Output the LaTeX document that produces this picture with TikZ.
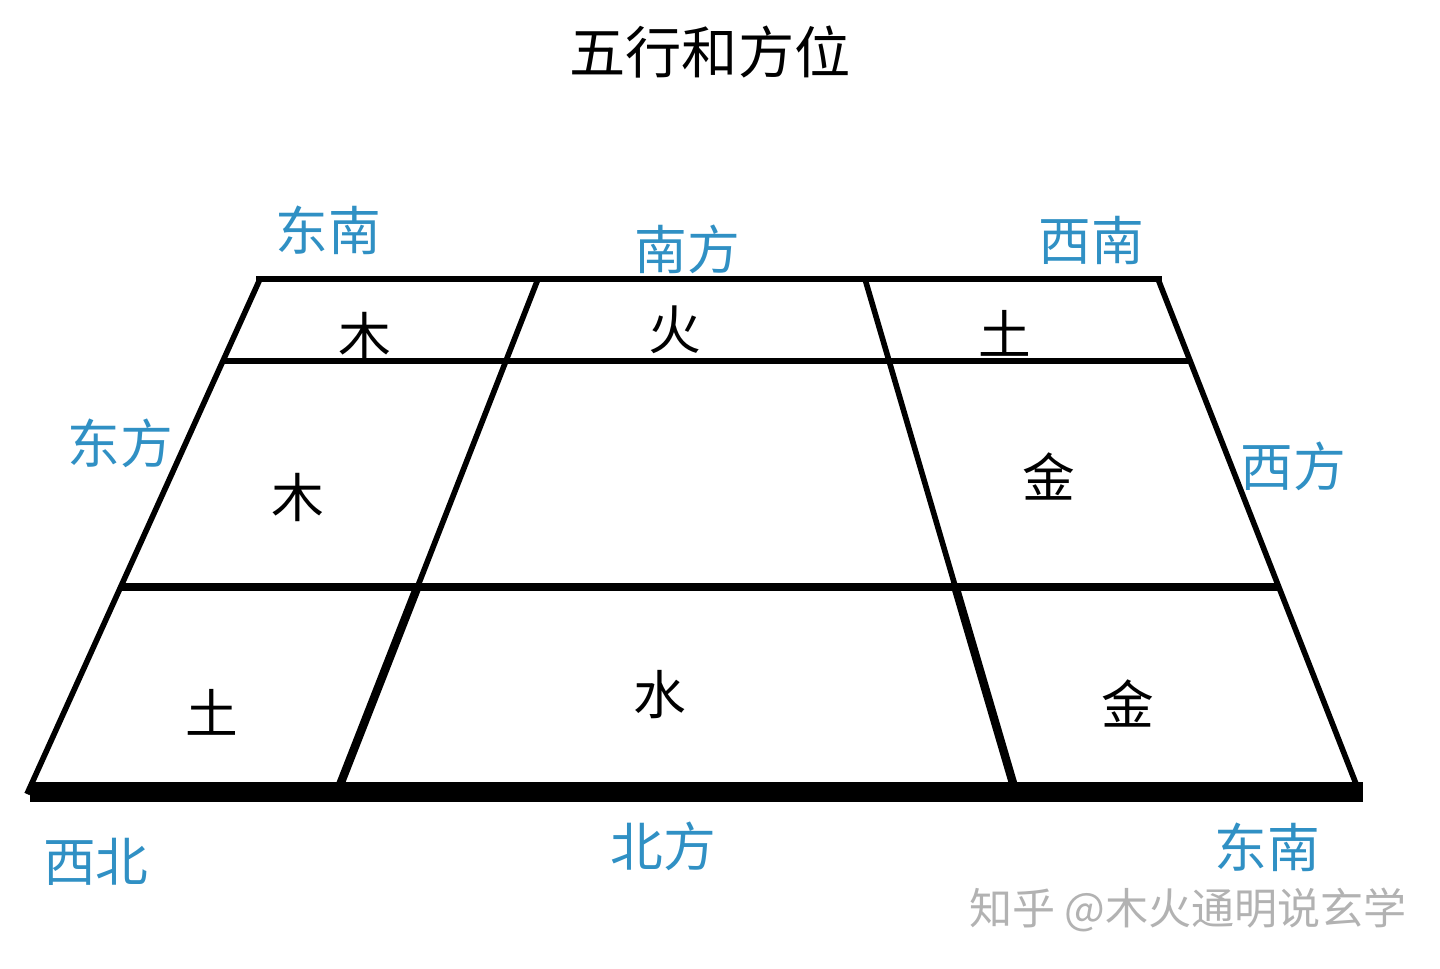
\documentclass[tikz,border=0pt]{standalone}
\usepackage{fontspec}
\newfontfamily\cjk{Noto Sans CJK SC}
\usetikzlibrary{calc}
\definecolor{dirblue}{RGB}{48,144,196}
\definecolor{markgray}{RGB}{178,178,178}

\begin{document}
\begin{tikzpicture}[x=0.02cm,y=-0.02cm,
every node/.style={inner sep=0pt, font=\cjk\fontsize{30}{30}\selectfont},
dir/.style={text=dirblue},
elem/.style={text=black},
thin rule/.style={line width=3.2pt},
mid rule/.style={line width=4.8pt},
base rule/.style={line width=11pt}]
\useasboundingbox (0,0) rectangle (1440,969);
% outer corners of the field
\coordinate (nw) at (260,279);
\coordinate (ne) at (1158,279);
\coordinate (sw) at (27,794);
\coordinate (se) at (1360,794);
% column dividers
\coordinate (c1n) at (538,279);
\coordinate (c1s) at (338,790);
\coordinate (c2n) at (865,279);
\coordinate (c2s) at (1015,790);
% row ends on the slanted sides
\coordinate (r1w) at ($(nw)!0.159!(sw)$);
\coordinate (r1e) at ($(ne)!0.159!(se)$);
\coordinate (r2w) at ($(nw)!0.598!(sw)$);
\coordinate (r2e) at ($(ne)!0.598!(se)$);
\coordinate (c1m) at ($(c1n)!0.598!(c1s)$);
\coordinate (c2m) at ($(c2n)!0.598!(c2s)$);
\coordinate (b1) at (30,792);
\coordinate (b2) at (1363,792);

\draw[thin rule] (nw) -- (sw);
\draw[thin rule] (ne) -- (se);
\draw[thin rule] (c1n) -- (c1m);
\draw[mid rule] (c1m) -- (c1s);
\draw[thin rule] (c2n) -- (c2m);
\draw[mid rule] (c2m) -- (c2s);
\draw[thin rule] ([xshift=-2]nw) -- ([xshift=2]ne);
\draw[thin rule] (r1w) -- (r1e);
\draw[mid rule] (r2w) -- (r2e);
\draw[base rule] (b1) -- (b2);

% title
\node (title) at (710,52) {\fontsize{32}{32}\selectfont 五行和方位};

% directions
\node[dir] (se1) at (328,230) {东南};
\node[dir] (south) at (687,249) {南方};
\node[dir] (sw1) at (1091,240) {西南};
\node[dir] (east) at (120,443) {东方};
\node[dir] (west) at (1293,466) {西方};
\node[dir] (nw1) at (96,862) {西北};
\node[dir] (north) at (663,846) {北方};
\node[dir] (se2) at (1267,847) {东南};

% elements
\node[elem] (wood1) at (365,336) {木};
\node[elem] (fire) at (675,330) {火};
\node[elem] (earth1) at (1005,333) {土};
\node[elem] (wood2) at (298,497) {木};
\node[elem] (metal1) at (1049,476) {金};
\node[elem] (earth2) at (212,712) {土};
\node[elem] (water) at (660,695) {水};
\node[elem] (metal2) at (1128,703) {金};

% watermark
\node[text=markgray, font=\cjk\fontsize{24.5}{24.5}\selectfont] (mark) at (1188,910) {知乎 @木火通明说玄学};
\end{tikzpicture}
\end{document}
